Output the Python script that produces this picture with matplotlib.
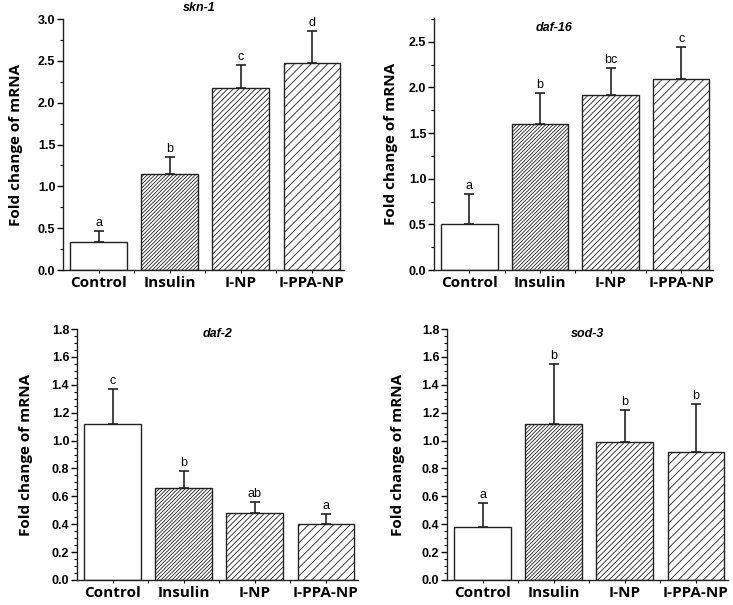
import matplotlib
matplotlib.use("Agg")
from matplotlib import pyplot as plt
from matplotlib.ticker import MultipleLocator, FixedLocator
import numpy as np

plt.rcParams['hatch.linewidth'] = 0.6

# data
groups = ["Control", "Insulin", "I-NP", "I-PPA-NP"]

skn1_mean = [0.33, 1.15, 2.17, 2.47]
skn1_err = [0.14, 0.20, 0.28, 0.39]
skn1_sig = ["a", "b", "c", "d"]

daf16_mean = [0.50, 1.60, 1.92, 2.09]
daf16_err = [0.33, 0.34, 0.29, 0.35]
daf16_sig = ["a", "b", "bc", "c"]

daf2_mean = [1.12, 0.66, 0.48, 0.40]
daf2_err = [0.25, 0.12, 0.08, 0.07]
daf2_sig = ["c", "b", "ab", "a"]

sod3_mean = [0.38, 1.12, 0.99, 0.92]
sod3_err = [0.17, 0.43, 0.23, 0.34]
sod3_sig = ["a", "b", "b", "b"]

hatches = ["", "/" * 9, "/" * 6, "/" * 4]

W, H = 733, 605
fig = plt.figure(figsize=(W / 100, H / 100), dpi=100)


def px_axes(left, top, right, bottom):
    return fig.add_axes([left / W, 1 - bottom / H, (right - left) / W, (bottom - top) / H])


def panel(ax, means, errs, sig, title, ymax, major, minor, title_xy, ylab_x):
    x = np.arange(len(groups))
    for i in range(len(groups)):
        ax.bar(x[i], means[i], width=0.8, color="white", edgecolor="#222222",
               linewidth=1.0, hatch=hatches[i], zorder=2)
    ax.errorbar(x, means, yerr=[np.zeros(len(errs)), errs], fmt="none",
                ecolor="#222222", elinewidth=1.2, capsize=3.5, capthick=1.2, zorder=1)
    for i in range(len(groups)):
        ax.text(x[i], means[i] + errs[i] + ymax * 0.008, sig[i], ha="center", va="bottom",
                fontsize=9, family="Liberation Sans")
    ax.set_xlim(-0.5, 3.45)
    ax.set_ylim(0, ymax)
    for s in ["top", "right"]:
        ax.spines[s].set_visible(False)
    for s in ["left", "bottom"]:
        ax.spines[s].set_linewidth(1.0)
        ax.spines[s].set_color("#222222")
    ax.yaxis.set_major_locator(MultipleLocator(major))
    ax.yaxis.set_minor_locator(MultipleLocator(minor))
    ax.set_yticklabels([f"{t:.1f}" for t in ax.get_yticks()])
    ax.xaxis.set_major_locator(FixedLocator(x))
    ax.xaxis.set_minor_locator(FixedLocator([0.5, 1.5, 2.5]))
    ax.set_xticklabels(groups)
    ax.tick_params(axis="y", which="major", length=4, width=1, labelsize=9, pad=1.5)
    ax.tick_params(axis="y", which="minor", length=2.5, width=0.8)
    ax.tick_params(axis="x", which="major", length=2.5, width=0.8, pad=1.5)
    ax.tick_params(axis="x", which="minor", length=2.5, width=0.8)
    for lab in ax.get_yticklabels():
        lab.set_fontweight("bold")
        lab.set_family("Liberation Sans")
    for lab in ax.get_xticklabels():
        lab.set_fontweight("bold")
        lab.set_family("Open Sans")
        lab.set_fontsize(11)
    ax.set_ylabel("Fold change of mRNA", fontsize=11, fontweight="bold", family="Open Sans")
    ax.yaxis.set_label_coords(ylab_x, 0.5)
    ax.text(title_xy[0], title_xy[1], title, transform=ax.transAxes, ha="center", va="center",
            fontsize=9, fontstyle="italic", fontweight="bold", family="Liberation Sans")


ax1 = px_axes(63, 19, 344, 270)
panel(ax1, skn1_mean, skn1_err, skn1_sig, "skn-1", 3.0, 0.5, 0.25, (0.485, 1.045), -0.142)

ax2 = px_axes(434, 18, 713, 270)
panel(ax2, daf16_mean, daf16_err, daf16_sig, "daf-16", 2.76, 0.5, 0.25, (0.43, 0.96), -0.129)

ax3 = px_axes(77, 329, 358, 580)
panel(ax3, daf2_mean, daf2_err, daf2_sig, "daf-2", 1.8, 0.2, 0.05, (0.5, 0.98), -0.157)

ax4 = px_axes(447, 329, 728, 580)
panel(ax4, sod3_mean, sod3_err, sod3_sig, "sod-3", 1.8, 0.2, 0.05, (0.5, 0.98), -0.149)

fig.savefig("out.png", dpi=100)
